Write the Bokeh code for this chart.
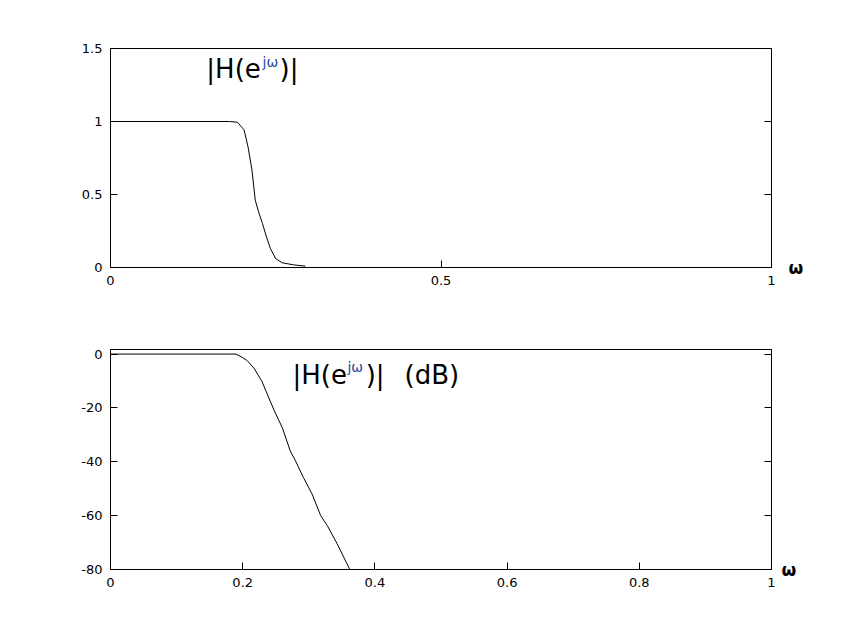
from bokeh.plotting import figure
from bokeh.layouts import column
from bokeh.models import Label, LinearAxis, FixedTicker, Range1d
from bokeh.embed import file_html
from bokeh.resources import INLINE

# ---- data ----
w_mag = [0, 0.18, 0.192, 0.202, 0.208, 0.214, 0.219, 0.224, 0.230, 0.236, 0.242, 0.250, 0.260, 0.277, 0.295]
mag = [1, 1, 0.995, 0.943, 0.828, 0.668, 0.461, 0.381, 0.30, 0.209, 0.129, 0.06, 0.032, 0.018, 0.009]

w_db = [0, 0.19, 0.2, 0.207, 0.217, 0.229, 0.247, 0.26, 0.272, 0.28, 0.292, 0.305, 0.318, 0.328, 0.343, 0.362]
db = [0, 0, -1.3, -2.5, -5.2, -10.1, -20.6, -27.4, -36, -39.7, -45.9, -52, -60, -63.7, -70.5, -80]

top_xticks = [0, 0.5, 1]
top_xlabels = ["0", "0.5", "1"]
top_yticks = [0, 0.5, 1, 1.5]
top_ylabels = ["0", "0.5", "1", "1.5"]

bot_xticks = [0, 0.2, 0.4, 0.6, 0.8, 1]
bot_xlabels = ["0", "0.2", "0.4", "0.6", "0.8", "1"]
bot_yticks = [0, -20, -40, -60, -80]
bot_ylabels = ["0", "-20", "-40", "-60", "-80"]

x_axis_name = "ω"

TICK_FONT = "DejaVu Sans"
TITLE_FONT = "DejaVu Sans"


def style_axis(ax, ticks, labels):
    ax.ticker = FixedTicker(ticks=ticks)
    ax.major_label_overrides = {t: l for t, l in zip(ticks, labels)}
    ax.major_tick_in = 7
    ax.major_tick_out = 0
    ax.minor_tick_line_color = None
    ax.axis_line_color = "black"
    ax.major_tick_line_color = "black"
    ax.major_label_text_font = TICK_FONT
    ax.major_label_text_font_size = "13px"
    ax.major_label_text_color = "black"
    ax.major_label_standoff = 8


def omega_axis(ticks, bottom_tick, standoff):
    # right-hand axis: tick marks only, plus the bold ω name beside the bottom corner
    ax = LinearAxis()
    labels = [x_axis_name if t == bottom_tick else "" for t in ticks]
    style_axis(ax, ticks, labels)
    ax.major_label_text_font = TITLE_FONT
    ax.major_label_text_font_size = "17px"
    ax.major_label_text_font_style = "bold"
    ax.major_label_standoff = standoff
    return ax


def make_fig(yr, fh, top, bottom):
    p = figure(frame_width=661, frame_height=fh,
               x_range=Range1d(0, 1), y_range=yr,
               output_backend="svg", toolbar_location=None,
               min_border_left=110, min_border_right=70,
               min_border_top=top, min_border_bottom=bottom,
               background_fill_color="white", border_fill_color="white")
    p.xgrid.visible = False
    p.ygrid.visible = False
    p.outline_line_color = "black"
    p.outline_line_width = 1
    p.outline_line_alpha = 1
    return p


# ---- top panel ----
p1 = make_fig(Range1d(0, 1.5), 219, 48, 41)
style_axis(p1.xaxis[0], top_xticks, top_xlabels)
style_axis(p1.yaxis[0], top_yticks, top_ylabels)
p1.add_layout(omega_axis(top_yticks, top_yticks[0], 17), "right")
p1.line(w_mag, mag, line_color="black", line_width=1)

p1.add_layout(Label(x=0.145, y=1.26, text="|H(e", text_font=TITLE_FONT,
                    text_font_size="26px", text_color="black"))
p1.add_layout(Label(x=0.230, y=1.35, text="jω", text_font=TITLE_FONT,
                    text_font_size="14px", text_color="#24489a"))
p1.add_layout(Label(x=0.2557, y=1.26, text=")|", text_font=TITLE_FONT,
                    text_font_size="26px", text_color="black"))

# ---- bottom panel ----
p2 = make_fig(Range1d(-80, 1.7), 220, 41, 50)
style_axis(p2.xaxis[0], bot_xticks, bot_xlabels)
style_axis(p2.yaxis[0], bot_yticks, bot_ylabels)
p2.add_layout(omega_axis(bot_yticks, bot_yticks[-1], 10), "right")
p2.line(w_db, db, line_color="black", line_width=1)

p2.add_layout(Label(x=0.2753, y=-13.4, text="|H(e", text_font=TITLE_FONT,
                    text_font_size="26px", text_color="black"))
p2.add_layout(Label(x=0.3585, y=-7.8, text="jω", text_font=TITLE_FONT,
                    text_font_size="14px", text_color="#24489a"))
p2.add_layout(Label(x=0.386, y=-13.4, text=")|", text_font=TITLE_FONT,
                    text_font_size="26px", text_color="black"))
p2.add_layout(Label(x=0.4448, y=-13.4, text="(dB)", text_font=TITLE_FONT,
                    text_font_size="26px", text_color="black"))

layout = column(p1, p2, spacing=0)
open("out.html", "w").write(file_html(layout, INLINE))
